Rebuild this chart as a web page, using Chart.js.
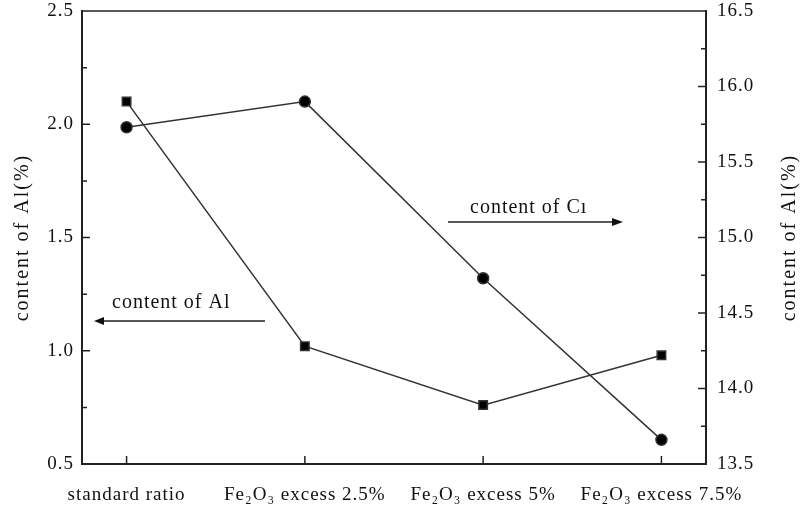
<!DOCTYPE html>
<html>
<head>
<meta charset="utf-8">
<script src="https://cdn.jsdelivr.net/npm/chart.js@4"></script>
<style>
  html, body { margin: 0; padding: 0; background: #fff; }
  #wrap { width: 803px; height: 510px; }
</style>
</head>
<body>
<div id="wrap"><canvas id="c"></canvas></div>
<script>
var categories = ['standard ratio', 'Fe\u2082O\u2083 excess 2.5%', 'Fe\u2082O\u2083 excess 5%', 'Fe\u2082O\u2083 excess 7.5%']
var al_values = [2.1, 1.02, 0.76, 0.98]
var c_values = [15.73, 15.9, 14.73, 13.66]
var left_ticks = [0.5, 1.0, 1.5, 2.0, 2.5]
var right_ticks = [13.5, 14.0, 14.5, 15.0, 15.5, 16.0, 16.5]

var ink = '#222'
var serif = '"Liberation Serif", "DejaVu Serif", serif'

function points(vals) {
  return vals.map(function (v, i) { return {x: i, y: v} })
}

// inward ticks, top border, titles and arrows
var decorations = {
  id: 'decorations',
  beforeDraw: function (chart) {
    chart.ctx.letterSpacing = '1px'
  },
  afterDraw: function (chart) {
    var ctx = chart.ctx
    var a = chart.chartArea
    var x = chart.scales.x, yl = chart.scales.y, yr = chart.scales.y2
    ctx.save()
    ctx.strokeStyle = ink
    ctx.lineWidth = 1.5
    ctx.beginPath()
    ctx.moveTo(a.left, a.top); ctx.lineTo(a.right, a.top)
    for (var v = 0.5; v <= 2.5001; v += 0.25) {
      var p = yl.getPixelForValue(v)
      var len = Math.abs((v * 2) % 1) < 0.01 ? 8 : 5
      ctx.moveTo(a.left, p); ctx.lineTo(a.left + len, p)
    }
    for (var w = 13.5; w <= 16.5001; w += 0.25) {
      var q = yr.getPixelForValue(w)
      var len2 = Math.abs((w * 2) % 1) < 0.01 ? 8 : 5
      ctx.moveTo(a.right, q); ctx.lineTo(a.right - len2, q)
    }
    for (var i = 0; i < categories.length; i++) {
      var px = x.getPixelForValue(i)
      ctx.moveTo(px, a.bottom); ctx.lineTo(px, a.bottom - 8)
    }
    ctx.stroke()

    ctx.fillStyle = '#111'
    ctx.font = '20px ' + serif
    ctx.letterSpacing = '2px'
    ctx.textAlign = 'center'
    ctx.textBaseline = 'middle'
    var mid = (a.top + a.bottom) / 2
    ctx.save()
    ctx.translate(23, mid)
    ctx.rotate(-Math.PI / 2)
    ctx.fillText('content of Al(%)', 0, 0)
    ctx.restore()
    ctx.save()
    ctx.translate(790, mid)
    ctx.rotate(-Math.PI / 2)
    ctx.fillText('content of Al(%)', 0, 0)
    ctx.restore()

    ctx.letterSpacing = '1px'
    ctx.textAlign = 'left'
    ctx.textBaseline = 'alphabetic'
    ctx.fillText('content of Al', 112, 308)
    ctx.fillText('content of C\u0131', 470, 213)

    ctx.lineWidth = 1.5
    ctx.beginPath()
    ctx.moveTo(265, 321); ctx.lineTo(100, 321)
    ctx.moveTo(448, 222); ctx.lineTo(616, 222)
    ctx.stroke()
    ctx.beginPath()
    ctx.moveTo(94, 321); ctx.lineTo(104, 317); ctx.lineTo(104, 325); ctx.closePath()
    ctx.moveTo(623, 222); ctx.lineTo(612, 218); ctx.lineTo(612, 226); ctx.closePath()
    ctx.fill()
    ctx.restore()
    ctx.letterSpacing = '0px'
  }
}

new Chart(document.getElementById('c'), {
  type: 'line',
  data: {
    datasets: [{
      label: 'content of Al',
      data: points(al_values),
      yAxisID: 'y',
      borderColor: '#333',
      backgroundColor: '#000',
      borderWidth: 1.5,
      pointStyle: 'rect',
      pointRadius: 6,
      tension: 0
    }, {
      label: 'content of C',
      data: points(c_values),
      yAxisID: 'y2',
      borderColor: '#333',
      backgroundColor: '#000',
      borderWidth: 1.5,
      pointStyle: 'circle',
      pointRadius: 5.5,
      tension: 0
    }]
  },
  options: {
    responsive: true,
    maintainAspectRatio: false,
    animation: false,
    events: [],
    layout: {padding: {top: 11, left: 0, right: 0, bottom: 0}},
    plugins: {legend: {display: false}, tooltip: {enabled: false}},
    scales: {
      x: {
        type: 'linear',
        min: -0.25,
        max: 3.25,
        afterBuildTicks: function (s) { s.ticks = categories.map(function (c, i) { return {value: i} }) },
        afterFit: function (s) { s.height = 46; s.paddingLeft = 0; s.paddingRight = 0 },
        ticks: {
          callback: function (v) { return categories[v] },
          color: '#111',
          font: {family: serif, size: 19},
          padding: 20,
          maxRotation: 0,
          autoSkip: false
        },
        grid: {drawOnChartArea: false, drawTicks: false},
        border: {display: true, color: ink, width: 2}
      },
      y: {
        position: 'left',
        min: 0.5,
        max: 2.5,
        afterBuildTicks: function (s) { s.ticks = left_ticks.map(function (v) { return {value: v} }) },
        afterFit: function (s) { s.width = 82; s.paddingTop = 0; s.paddingBottom = 0 },
        ticks: {
          callback: function (v) { return v.toFixed(1) },
          color: '#111',
          font: {family: serif, size: 19},
          padding: 8
        },
        grid: {drawOnChartArea: false, drawTicks: false},
        border: {display: true, color: ink, width: 2}
      },
      y2: {
        position: 'right',
        min: 13.5,
        max: 16.5,
        afterBuildTicks: function (s) { s.ticks = right_ticks.map(function (v) { return {value: v} }) },
        afterFit: function (s) { s.width = 97; s.paddingTop = 0; s.paddingBottom = 0 },
        ticks: {
          callback: function (v) { return v.toFixed(1) },
          color: '#111',
          font: {family: serif, size: 19},
          padding: 11
        },
        grid: {drawOnChartArea: false, drawTicks: false},
        border: {display: true, color: ink, width: 2}
      }
    }
  },
  plugins: [decorations]
})
</script>
</body>
</html>
